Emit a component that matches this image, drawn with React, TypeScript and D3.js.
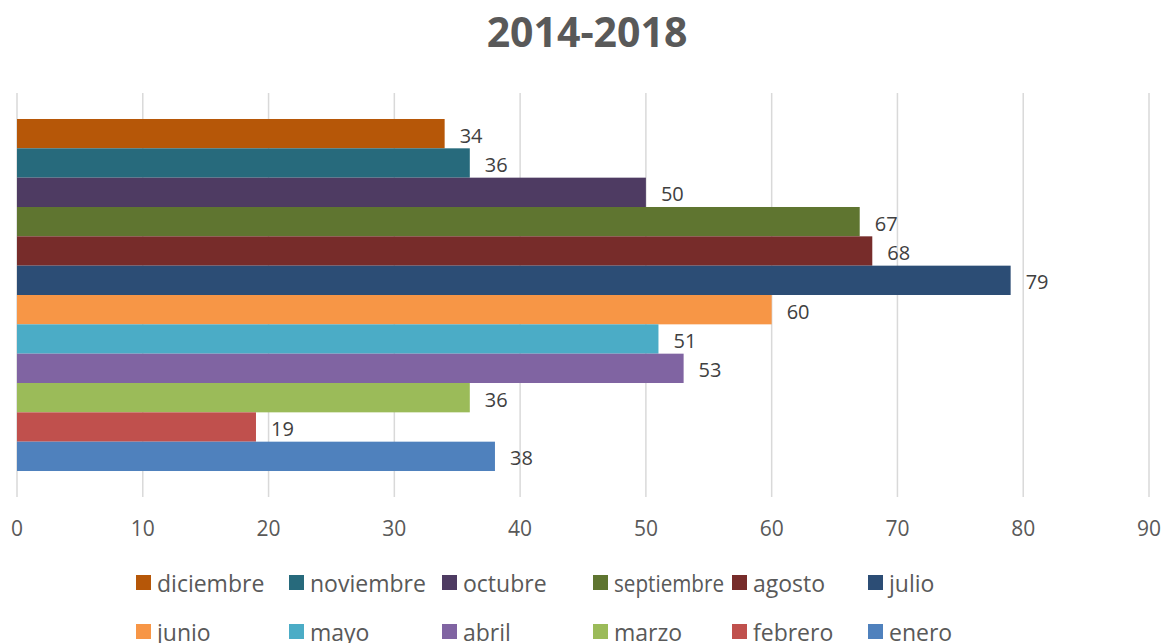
import React from "react";
import * as d3 from "d3";

const months = ["diciembre", "noviembre", "octubre", "septiembre", "agosto", "julio", "junio", "mayo", "abril", "marzo", "febrero", "enero"];
const values = [34, 36, 50, 67, 68, 79, 60, 51, 53, 36, 19, 38];
const colors = ["#B65708", "#276A7C", "#4E3B62", "#5F7530", "#772C2A", "#2C4D75", "#F79646", "#4BACC6", "#8064A2", "#9BBB59", "#C0504D", "#4F81BD"];
const xTicks = [0, 10, 20, 30, 40, 50, 60, 70, 80, 90];
const title = "2014-2018";

const W = 1164;
const H = 643;
const FONT = "'Open Sans', Lato, sans-serif";
const LEG_FS = 23;

function measure(text: string, size: number): number {
  const c = document.createElement("canvas");
  const ctx = c.getContext("2d");
  if (!ctx) return text.length * size * 0.5;
  ctx.font = `${size}px 'Open Sans'`;
  return ctx.measureText(text).width;
}

export default function App() {
  const x = d3.scaleLinear().domain([0, 90]).range([17, 1149]);
  const y = d3.scaleBand<string>().domain(months).range([93, 497]).paddingInner(0).paddingOuter(0.886);
  const legendCols = [136, 289, 442, 593, 732, 868];
  const legendRows = [575, 624];

  return (
    <svg width={W} height={H} style={{ position: "absolute", left: 0, top: 0, background: "#fff" }} fontFamily={FONT}>
      <rect width={W} height={H} fill="#fff" />
      <text x={587} y={47} textAnchor="middle" fontSize={41} fontWeight="bold" fill="#595959">{title}</text>
      {xTicks.map((t) => (
        <line key={"g" + t} x1={x(t)} x2={x(t)} y1={93} y2={497} stroke="#D9D9D9" strokeWidth={1.5} />
      ))}
      {months.map((m, i) => (
        <rect key={m} x={x(0)} y={y(m)!} width={x(values[i]) - x(0)} height={y.bandwidth()} fill={colors[i]} />
      ))}
      {months.map((m, i) => (
        <text key={"l" + m} x={x(values[i]) + 15} y={y(m)! + y.bandwidth() / 2 + 9} fontSize={20} fill="#404040">{values[i]}</text>
      ))}
      {xTicks.map((t) => (
        <text key={"t" + t} x={x(t)} y={536} textAnchor="middle" fontSize={21} fill="#595959">{t}</text>
      ))}
      {months.map((m, i) => {
        const col = i % 6;
        const row = Math.floor(i / 6);
        const lx = legendCols[col];
        const ly = legendRows[row];
        const tx = lx + 21;
        const maxW = col < legendCols.length - 1 ? legendCols[col + 1] - tx - 8 : 1000;
        const w = measure(m, LEG_FS);
        const squeeze = w > maxW;
        return (
          <g key={"lg" + m}>
            <rect x={lx} y={ly} width={15} height={15} fill={colors[i]} />
            <text
              x={tx}
              y={ly + 17}
              fontSize={LEG_FS}
              fill="#595959"
              {...(squeeze ? { textLength: maxW, lengthAdjust: "spacingAndGlyphs" } : {})}
            >
              {m}
            </text>
          </g>
        );
      })}
    </svg>
  );
}
